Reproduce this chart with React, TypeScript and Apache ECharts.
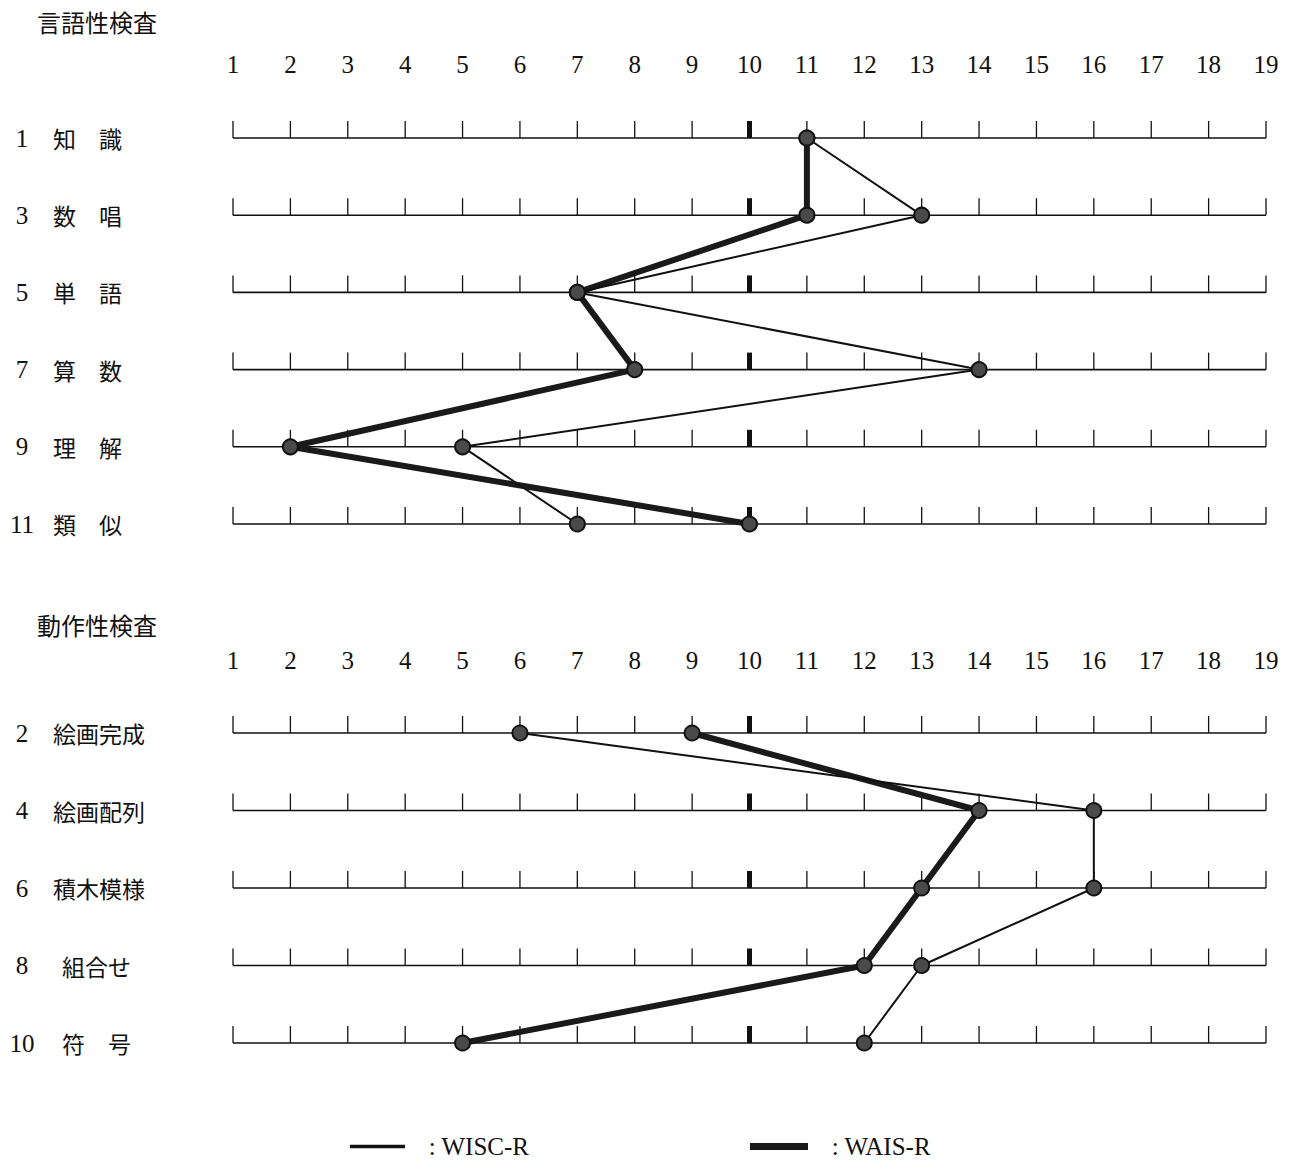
import React, { useEffect, useRef } from "react";
import * as echarts from "echarts";

const SCALE_TICKS = [1, 2, 3, 4, 5, 6, 7, 8, 9, 10, 11, 12, 13, 14, 15, 16, 17, 18, 19];
const MEAN_TICK = 10;

const VERBAL_TITLE = "言語性検査";
const VERBAL_NUMS = ["1", "3", "5", "7", "9", "11"];
const VERBAL_TESTS = ["知　識", "数　唱", "単　語", "算　数", "理　解", "類　似"];
const VERBAL_WISC = [11, 13, 7, 14, 5, 7];
const VERBAL_WAIS = [11, 11, 7, 8, 2, 10];

const PERF_TITLE = "動作性検査";
const PERF_NUMS = ["2", "4", "6", "8", "10"];
const PERF_TESTS = ["絵画完成", "絵画配列", "積木模様", "組合せ", "符　号"];
const PERF_WISC = [6, 16, 16, 13, 12];
const PERF_WAIS = [9, 14, 13, 12, 5];

const SERIES_NAMES = ["WISC-R", "WAIS-R"];

const SERIF = "'Liberation Serif', 'DejaVu Serif', serif";
const CJK = "'Noto Sans CJK JP', 'Noto Sans', sans-serif";

export default function App() {
  const ref = useRef<HTMLDivElement>(null);

  useEffect(() => {
    document.body.style.margin = "0";
    if (!ref.current) return;
    const chart = echarts.init(ref.current, null, { renderer: "svg" });

    const panels = [
      { nums: VERBAL_NUMS, tests: VERBAL_TESTS, wisc: VERBAL_WISC, wais: VERBAL_WAIS, top: 138, height: 386 },
      { nums: PERF_NUMS, tests: PERF_TESTS, wisc: PERF_WISC, wais: PERF_WAIS, top: 733, height: 310 },
    ];

    const grids = panels.map((p) => ({ left: 233, width: 1033, top: p.top, height: p.height }));

    const xAxes = panels.map((_, gi) => ({
      type: "value",
      gridIndex: gi,
      position: "top",
      min: SCALE_TICKS[0],
      max: SCALE_TICKS[SCALE_TICKS.length - 1],
      interval: 1,
      axisLine: { show: false },
      axisTick: { show: false },
      splitLine: { show: false },
      axisLabel: { margin: gi === 0 ? 61 : 60, fontFamily: SERIF, fontSize: 25, color: "#111" },
    }));

    const yAxes = panels.map((p, gi) => ({
      type: "category",
      gridIndex: gi,
      inverse: true,
      boundaryGap: false,
      data: p.tests,
      axisLine: { show: false },
      axisTick: { show: false },
      splitLine: { show: false },
      axisLabel: {
        margin: 221,
        align: "left",
        formatter: (val: string, idx: number) => {
          const key = val === "組合せ" || val === "符　号" ? "c2" : "c";
          return `{n|${p.nums[idx]}}{${key}|${val}}`;
        },
        rich: {
          n: { width: 20, align: "right", fontFamily: SERIF, fontSize: 25, color: "#111" },
          c: { padding: [0, 0, 0, 21], fontFamily: CJK, fontSize: 23, color: "#111" },
          c2: { padding: [0, 0, 0, 30], fontFamily: CJK, fontSize: 23, color: "#111" },
        },
      },
    }));

    const series: any[] = [];
    panels.forEach((p, gi) => {
      series.push({
        type: "custom",
        xAxisIndex: gi,
        yAxisIndex: gi,
        silent: true,
        z: 1,
        encode: { x: 0, y: 1 },
        data: p.tests.map((_, i) => [SCALE_TICKS[0], i]),
        renderItem: (params: any, api: any) => {
          const row = api.value(1);
          const s = api.coord([SCALE_TICKS[0], row]);
          const e = api.coord([SCALE_TICKS[SCALE_TICKS.length - 1], row]);
          const children: any[] = [
            {
              type: "line",
              shape: { x1: s[0], y1: s[1], x2: e[0], y2: e[1] },
              style: { stroke: "#111", lineWidth: 1.6 },
            },
          ];
          SCALE_TICKS.forEach((t) => {
            const c = api.coord([t, row]);
            if (t === MEAN_TICK) {
              children.push({
                type: "rect",
                shape: { x: c[0] - 2.5, y: c[1] - 17, width: 5, height: 17 },
                style: { fill: "#111" },
              });
            } else {
              children.push({
                type: "line",
                shape: { x1: c[0], y1: c[1], x2: c[0], y2: c[1] - 17 },
                style: { stroke: "#111", lineWidth: 1.3 },
              });
            }
          });
          return { type: "group", children };
        },
      });
      series.push({
        name: SERIES_NAMES[1],
        type: "line",
        xAxisIndex: gi,
        yAxisIndex: gi,
        z: 3,
        clip: false,
        data: p.wais.map((v, i) => [v, i]),
        symbol: "circle",
        symbolSize: 15,
        lineStyle: { color: "#1a1a1a", width: 6 },
        itemStyle: { color: "#4a4a4a", borderColor: "#111", borderWidth: 2 },
      });
      series.push({
        name: SERIES_NAMES[0],
        type: "line",
        xAxisIndex: gi,
        yAxisIndex: gi,
        z: 4,
        clip: false,
        data: p.wisc.map((v, i) => [v, i]),
        symbol: "circle",
        symbolSize: 15,
        lineStyle: { color: "#111", width: 2 },
        itemStyle: { color: "#4a4a4a", borderColor: "#111", borderWidth: 2 },
      });
    });

    const legendText = { fontFamily: SERIF, fontSize: 25, lineHeight: 25, color: "#111" };
    const NB = "\u00a0\u00a0\u00a0";

    const option: any = {
      animation: false,
      backgroundColor: "#fff",
      title: [
        { text: VERBAL_TITLE, left: 32, top: 4, textStyle: { fontFamily: CJK, fontSize: 24, fontWeight: "normal", color: "#111" } },
        { text: PERF_TITLE, left: 32, top: 607, textStyle: { fontFamily: CJK, fontSize: 24, fontWeight: "normal", color: "#111" } },
      ],
      legend: [
        {
          data: [{ name: SERIES_NAMES[0], itemStyle: { color: "#111", borderWidth: 0 } }],
          left: 350,
          top: 1134,
          padding: 0,
          icon: "rect",
          itemWidth: 55,
          itemHeight: 3.5,
          selectedMode: false,
          formatter: (n: string) => `${NB}: ${n}`,
          textStyle: legendText,
        },
        {
          data: [{ name: SERIES_NAMES[1], itemStyle: { color: "#1a1a1a", borderWidth: 0 } }],
          left: 750,
          top: 1134,
          padding: 0,
          icon: "rect",
          itemWidth: 58,
          itemHeight: 7,
          selectedMode: false,
          formatter: (n: string) => `${NB}: ${n}`,
          textStyle: legendText,
        },
      ],
      grid: grids,
      xAxis: xAxes,
      yAxis: yAxes,
      series,
    };

    chart.setOption(option);
    return () => chart.dispose();
  }, []);

  return <div ref={ref} style={{ width: 1290, height: 1162 }} />;
}
